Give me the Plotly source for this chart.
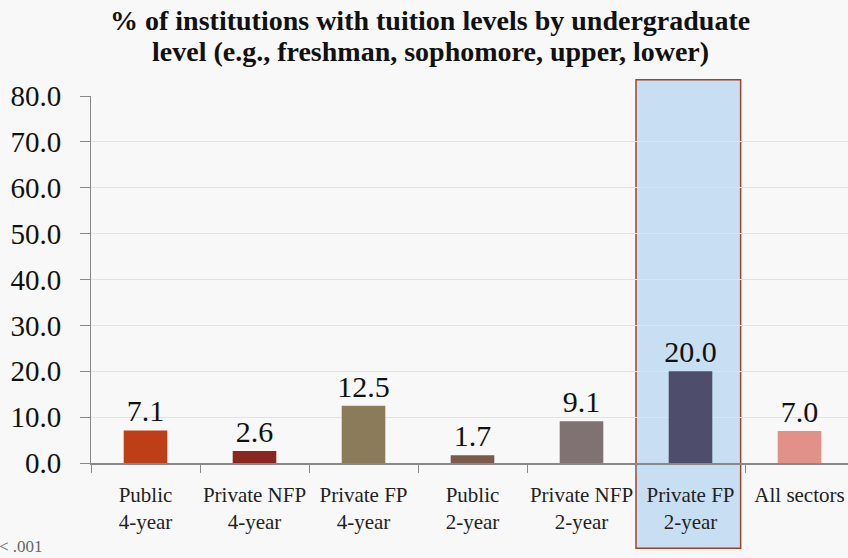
import plotly.graph_objects as go

# Data
categories = ["Public<br>4-year", "Private NFP<br>4-year", "Private FP<br>4-year",
              "Public<br>2-year", "Private NFP<br>2-year", "Private FP<br>2-year",
              "All sectors"]
values = [7.1, 2.6, 12.5, 1.7, 9.1, 20.0, 7.0]
bar_colors = ["#BE3E17", "#8B2520", "#8C7B5B", "#7B5A4B", "#807272", "#4E4D6C", "#E2918A"]
y_ticks = [0, 10, 20, 30, 40, 50, 60, 70, 80]
highlight = "Private FP<br>2-year"
title_lines = ["% of institutions with tuition levels by undergraduate",
               "level (e.g., freshman, sophomore, upper, lower)"]

serif = "Liberation Serif, serif"
bg = "#f8f8f8"

fig = go.Figure(go.Bar(
    x=categories,
    y=values,
    width=0.4,
    marker=dict(color=bar_colors, line=dict(width=0)),
    text=[f"{v:.1f}" for v in values],
    textposition="outside",
    constraintext="none",
    textfont=dict(family=serif, size=30, color="#111"),
    cliponaxis=False,
))

# highlight box round the Private FP 2-year column
hi = categories.index(highlight)
fig.add_shape(type="rect", xref="x", yref="paper",
              x0=hi - 0.5, x1=hi + 0.46, y0=-0.232, y1=1.044,
              fillcolor="rgba(130,185,235,0.42)",
              line=dict(color="#A3412B", width=1.5),
              layer="between")

# title, one annotation per line so the spacing is tight
for line, ypos in zip(title_lines, [1.207, 1.120]):
    fig.add_annotation(text="<b>" + line + "</b>",
                       xref="paper", yref="paper", x=0.448, y=ypos,
                       xanchor="center", yanchor="middle", showarrow=False,
                       font=dict(family=serif, size=28, color="#111"))

fig.add_annotation(text="< .001", xref="paper", yref="paper", x=-0.124, y=-0.228,
                   xanchor="left", yanchor="middle", showarrow=False,
                   font=dict(family=serif, size=17, color="#666"))

fig.update_layout(
    width=848, height=558,
    margin=dict(l=91, r=0, t=96, b=95, autoexpand=False),
    paper_bgcolor=bg, plot_bgcolor=bg,
    showlegend=False,
    xaxis=dict(range=[-0.5, 6.445], tickson="boundaries", ticks="outside", ticklen=8,
               tickcolor="#888", showline=True, linecolor="#888", linewidth=1.5,
               showgrid=False, ticklabelstandoff=12, automargin=False, tickangle=0,
               tickfont=dict(family=serif, size=21, color="#222")),
    yaxis=dict(range=[0, 80], tickvals=y_ticks, tickformat=".1f",
               ticks="outside", ticklen=10, tickcolor="#888",
               showline=True, linecolor="#888", linewidth=1,
               gridcolor="#e2e2e2", zeroline=False, ticklabelstandoff=13,
               automargin=False,
               tickfont=dict(family=serif, size=29, color="#111")),
)

# drop the page's default body margin so the figure sits at the window's corner
fig.write_html("out.html", config={"displayModeBar": False},
               post_script="document.body.style.margin='0';")
